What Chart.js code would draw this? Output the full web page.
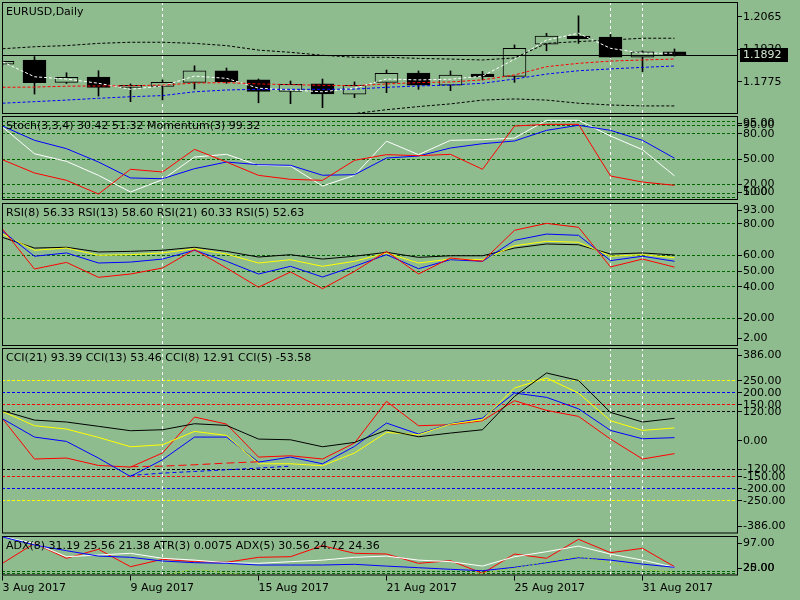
<!DOCTYPE html>
<html>
<head>
<meta charset="utf-8">
<title>EURUSD,Daily</title>
<script src="https://cdn.jsdelivr.net/npm/chart.js@4.4.1/dist/chart.umd.min.js"></script>
<style>
    html, body { margin: 0; padding: 0; width: 800px; height: 600px; overflow: hidden; background: #8FBC8F; }
    canvas { position: absolute; left: 0; }
</style>
</head>
<body>
<canvas id="pricePanel"></canvas>
<canvas id="stochPanel"></canvas>
<canvas id="rsiPanel"></canvas>
<canvas id="cciPanel"></canvas>
<canvas id="adxPanel"></canvas>
<script>
// bars (daily)
const dates = ['3 Aug', '4 Aug', '7 Aug', '8 Aug', '9 Aug', '10 Aug', '11 Aug', '14 Aug', '15 Aug', '16 Aug', '17 Aug',
    '18 Aug', '21 Aug', '22 Aug', '23 Aug', '24 Aug', '25 Aug', '28 Aug', '29 Aug', '30 Aug', '31 Aug', '1 Sep'];
const dateTickBars = [0, 4, 8, 12, 16, 20];
const separatorBars = [5, 19, 20];

// price
const open  = [1.1853, 1.1872, 1.1772, 1.1796, 1.1750, 1.1754, 1.1772, 1.1823, 1.1783, 1.1732, 1.1765, 1.1719, 1.1772, 1.1814, 1.1759, 1.1809, 1.1799, 1.1943, 1.1979, 1.1974, 1.1884, 1.1908];
const high  = [1.1867, 1.1887, 1.1815, 1.1824, 1.1765, 1.1783, 1.1846, 1.1836, 1.1787, 1.1778, 1.1787, 1.1774, 1.1827, 1.1823, 1.1823, 1.1821, 1.1939, 1.1991, 1.2069, 1.1986, 1.1913, 1.1921];
const low   = [1.1850, 1.1720, 1.1767, 1.1711, 1.1686, 1.1693, 1.1742, 1.1768, 1.1681, 1.1677, 1.1659, 1.1704, 1.1726, 1.1741, 1.1735, 1.1783, 1.1772, 1.1913, 1.1946, 1.1884, 1.1820, 1.1889];
const close = [1.1866, 1.1771, 1.1795, 1.1750, 1.1759, 1.1772, 1.1823, 1.1775, 1.1732, 1.1763, 1.1721, 1.1759, 1.1812, 1.1759, 1.1804, 1.1797, 1.1924, 1.1979, 1.1967, 1.1884, 1.1908, 1.1892];
const bandUpper = [1.1922, 1.1931, 1.1936, 1.1946, 1.1951, 1.1951, 1.1946, 1.1936, 1.1916, 1.1906, 1.1893, 1.1884, 1.1884, 1.1879, 1.1876, 1.1872, 1.1881, 1.1946, 1.1954, 1.1961, 1.1969, 1.1969];
const bandLower = [1.1613, 1.1609, 1.1604, 1.1600, 1.1600, 1.1600, 1.1604, 1.1609, 1.1618, 1.1622, 1.1626, 1.1633, 1.1650, 1.1664, 1.1676, 1.1693, 1.1698, 1.1693, 1.1679, 1.1671, 1.1667, 1.1667];
const maRed   = [1.1750, 1.1751, 1.1755, 1.1756, 1.1757, 1.1760, 1.1769, 1.1771, 1.1765, 1.1762, 1.1759, 1.1757, 1.1765, 1.1771, 1.1774, 1.1783, 1.1805, 1.1842, 1.1857, 1.1867, 1.1872, 1.1876];
const maBlue  = [1.1679, 1.1686, 1.1693, 1.1701, 1.1708, 1.1713, 1.1730, 1.1738, 1.1741, 1.1741, 1.1741, 1.1742, 1.1750, 1.1756, 1.1760, 1.1768, 1.1787, 1.1809, 1.1824, 1.1832, 1.1839, 1.1845];
const maWhite = [1.1864, 1.1797, 1.1787, 1.1768, 1.1741, 1.1756, 1.1800, 1.1790, 1.1746, 1.1738, 1.1730, 1.1746, 1.1787, 1.1783, 1.1786, 1.1800, 1.1875, 1.1961, 1.1991, 1.1924, 1.1902, 1.1902];
const lastPrice = 1.1892;
const priceTicks = [1.2065, 1.1920, 1.1775];

// Stoch(3,3,4) / Momentum(3)
const stochMain   = [88.3, 56.6, 47.6, 31.0, 11.3, 25.9, 52.7, 55.9, 42.9, 42.0, 18.4, 31.0, 71.5, 55.5, 72.5, 73.2, 75.2, 96.2, 96.2, 77.6, 61.4, 30.4];
const stochSignal = [89.4, 72.5, 62.6, 46.8, 27.9, 27.0, 38.9, 46.8, 43.6, 42.9, 31.1, 31.8, 51.5, 53.9, 63.4, 68.5, 71.7, 84.3, 90.3, 84.3, 72.5, 51.3];
const momentum    = [49.5, 33.8, 25.1, 8.9, 38.2, 35.0, 61.8, 46.8, 31.0, 26.3, 25.1, 48.8, 55.5, 54.3, 55.9, 38.2, 89.4, 91.4, 91.4, 30.2, 23.1, 19.2];
const stochLevels = [95, 90, 80, 50, 20, 10, 5];

// RSI
const rsi8  = [75.4, 59.5, 61.6, 55.2, 55.8, 57.7, 63.3, 56.3, 48.2, 53.1, 46.3, 53.1, 60.5, 51.6, 57.3, 56.3, 69.6, 73.6, 72.8, 56.7, 59.5, 56.3];
const rsi13 = [73.6, 63.3, 64.7, 60.1, 60.5, 61.6, 64.3, 60.9, 55.2, 57.3, 53.1, 56.3, 61.6, 55.2, 57.7, 57.3, 66.2, 69.0, 68.4, 59.5, 60.5, 58.6];
const rsi21 = [71.5, 64.7, 65.2, 62.2, 62.6, 63.3, 65.2, 62.6, 59.0, 60.5, 57.7, 59.5, 62.0, 58.8, 59.8, 59.8, 64.7, 67.3, 66.8, 60.9, 61.6, 60.3];
const rsi5  = [76.8, 51.4, 55.6, 46.1, 48.2, 52.0, 63.7, 52.0, 39.8, 49.5, 38.9, 49.9, 62.6, 48.2, 58.4, 56.3, 76.0, 80.4, 77.9, 52.7, 57.7, 52.6];
const rsiLevels = [80, 60, 50, 40, 20];
const rsiTicks = [93, 80, 60, 50, 40, 20, 2];

// CCI
const cci21 = [125, 86, 78, 60, 41.7, 45.8, 70.8, 63.9, 7, 4, -25, -7, 44.4, 16.7, 32, 45.8, 184.7, 282, 251, 118, 78, 93.4];
const cci13 = [122, 62.5, 48.6, 13.9, -25, -16.7, 38.9, 22, -95.8, -95.8, -104, -51, 34.7, 25, 69.4, 87.5, 219.4, 261, 198.6, 83.3, 43, 53.5];
const cci8  = [91.7, 15.3, -2.8, -72.2, -148.6, -79, 15.3, 15.3, -88.9, -68, -95.8, -23.6, 73.6, 27.8, 70.8, 94.4, 198.6, 180.6, 133, 43, 8.3, 12.9];
const cci5  = [91.7, -76, -72, -102.8, -109.7, -51, 98.6, 69.4, -68, -62.5, -76, -9.7, 163.9, 62.5, 66.7, 83.3, 166.7, 126.4, 101.4, 7, -76, -53.6];
const cciRedDash  = [null, null, null, null, -108, -105.6, -100, -93, -87.5, null, null, null, null, null, null, null, null, null, null, null, null, null];
const cciBlueDash = [null, null, null, null, -144.4, -134.7, -127.8, -120.8, -113.9, -105.6, null, null, null, null, null, null, null, null, null, null, null, null];
const cciLevels = [250, 200, 150, 120, -120, -150, -200, -250];
const cciTicks = [386, 250, 200, 150, 120, 0, -120, -150, -200, -250, -386];

// ADX / ATR
const adxRed   = [46, 96, 58.5, 81, 37.5, 56, 50, 48.5, 61, 62.5, 90, 71, 69.2, 46, 52.5, 21, 69.2, 58.5, 106, 72.5, 83.5, 37.5];
const adxWhite = [112.5, 96, 62.5, 66.7, 71, 58.5, 54, 47.5, 46, 50, 54, 61, 64, 54, 50, 39, 62.5, 75, 89, 69, 54, 36];
const adxBlue  = [112, 91.7, 77.5, 64, 61, 51.7, 47.5, 46, 41.7, 41.7, 41.7, 43.5, 39, 35, 31, 27.5, 36, 47.5, 60, 54, 44, 36];
const atr3     = [0.0069, 0.0070, 0.0070, 0.0070, 0.0071, 0.0071, 0.00794, 0.00745, 0.0071, 0.0070, 0.0069, 0.0069, 0.0069, 0.0070, 0.0070, 0.00743, 0.00803, 0.00882, 0.00942, 0.0087, 0.00791, 0.0075];
const adxLevels = [25, 20];
const adxTicks = [97, 25, 20];

const FONT = '11px "DejaVu Sans"';
const GRID_GREEN = '#006400';
const BG = '#8FBC8F';
// 32px per bar, bar 0 sits half a pixel inside the left border
const X_MIN = -0.0156;
const X_MAX = 22.953;

const points = arr => arr.map((v, i) => ({ x: i, y: v }));

const line = (arr, color, dash, extra) => Object.assign({
    type: 'line',
    data: points(arr),
    borderColor: color,
    borderWidth: 1,
    borderDash: dash || [],
    pointRadius: 0,
    tension: 0,
    order: 0
}, extra || {});

const panelPlugin = p => ({
    id: 'mtPanel',
    beforeDatasetsDraw(chart) {
        const { ctx, chartArea: a, scales: { x, y } } = chart;
        ctx.save();
        ctx.lineWidth = 1;
        (p.levels || []).forEach((lv, k) => {
            const py = Math.floor(y.getPixelForValue(lv)) + 0.5;
            ctx.strokeStyle = p.levelColors ? p.levelColors[k] : GRID_GREEN;
            ctx.setLineDash([3, 2]);
            ctx.beginPath();
            ctx.moveTo(a.left, py);
            ctx.lineTo(a.right, py);
            ctx.stroke();
        });
        // period separators
        ctx.strokeStyle = '#FFFFFF';
        ctx.setLineDash([3, 3]);
        separatorBars.forEach(b => {
            const px = Math.floor(x.getPixelForValue(b)) + 0.5;
            ctx.beginPath();
            ctx.moveTo(px, a.top);
            ctx.lineTo(px, a.bottom);
            ctx.stroke();
        });
        ctx.restore();
    },
    afterDraw(chart) {
        const { ctx, chartArea: a, scales: { x, y } } = chart;
        ctx.save();
        ctx.font = FONT;
        ctx.textBaseline = 'middle';
        ctx.textAlign = 'left';
        ctx.fillStyle = '#000';
        ctx.strokeStyle = '#000';
        ctx.lineWidth = 1;
        ctx.setLineDash([]);

        ctx.fillText(p.title, 6, a.top + 10);

        // right scale labels
        p.ticks.forEach(v => {
            let py = y.getPixelForValue(v);
            py = Math.min(Math.max(py, a.top + 7.5), a.bottom - 7.5);
            const ty = Math.floor(py) + 0.5;
            ctx.beginPath();
            ctx.moveTo(a.right, ty);
            ctx.lineTo(a.right + 5, ty);
            ctx.stroke();
            ctx.fillText(v.toFixed(p.digits), a.right + 6, py);
        });

        if (p.lastPrice !== undefined) {
            const py = y.getPixelForValue(p.lastPrice);
            const ly = Math.floor(py) + 0.5;
            ctx.beginPath();
            ctx.moveTo(a.left, ly);
            ctx.lineTo(a.right, ly);
            ctx.stroke();
            ctx.fillStyle = '#000';
            ctx.fillRect(a.right + 3, Math.round(py) - 7, 48, 14);
            ctx.fillStyle = '#D2E6D2';
            ctx.fillText(p.lastPrice.toFixed(4), a.right + 6, py);
            ctx.fillStyle = '#000';
        }

        if (p.xAxis) {
            dateTickBars.forEach(b => {
                const px = Math.floor(x.getPixelForValue(b)) + 0.5;
                ctx.beginPath();
                ctx.moveTo(px, a.bottom);
                ctx.lineTo(px, a.bottom + 5);
                ctx.stroke();
                ctx.fillText(dates[b] + ' 2017', px, a.bottom + 13);
            });
        }

        ctx.strokeRect(a.left + 0.5, a.top + 0.5, a.right - a.left, a.bottom - a.top - 1);
        ctx.restore();
    }
});

const makePanel = (id, p) => {
    const canvas = document.getElementById(id);
    const padTop = 8;
    const areaH = p.bottom - p.top;
    const h = Math.ceil(areaH + padTop + (p.xAxis ? 600 - p.bottom : 8));
    canvas.width = 800;
    canvas.height = h;
    canvas.style.top = (p.top - padTop) + 'px';

    const scales = {
        x: { type: 'linear', min: X_MIN, max: X_MAX, display: false, offset: false },
        y: { type: 'linear', min: p.min, max: p.max, display: false }
    };
    Object.assign(scales, p.extraScales || {});

    return new Chart(canvas, {
        type: 'line',
        data: { datasets: p.datasets },
        options: {
            responsive: false,
            animation: false,
            events: [],
            layout: { padding: { left: 2, right: 63, top: padTop, bottom: h - padTop - areaH } },
            scales: scales,
            plugins: { legend: { display: false }, tooltip: { enabled: false } }
        },
        plugins: [panelPlugin(p)]
    });
};

window.onload = () => {
    const bars = dates.map((d, i) => i);

    makePanel('pricePanel', {
        top: 2, bottom: 114, min: 1.16309, max: 1.21306,
        title: 'EURUSD,Daily', ticks: priceTicks, digits: 4, lastPrice: lastPrice,
        datasets: [
            {
                type: 'bar',
                data: bars.map(i => ({ x: i, y: [low[i], high[i]] })),
                backgroundColor: '#000',
                borderWidth: 0,
                barThickness: 1,
                grouped: false,
                order: 3
            },
            {
                type: 'bar',
                data: bars.map(i => ({ x: i, y: [open[i], close[i]] })),
                backgroundColor: bars.map(i => close[i] < open[i] ? '#000' : BG),
                borderColor: '#000',
                borderWidth: 1,
                borderSkipped: false,
                barThickness: 23,
                grouped: false,
                order: 2
            },
            line(bandUpper, '#000', [3, 2]),
            line(bandLower, '#000', [3, 2]),
            line(maBlue, '#0000FF', [3, 2]),
            line(maRed, '#FF0000', [3, 2]),
            line(maWhite, '#FFFFFF', [3, 2])
        ]
    });

    makePanel('stochPanel', {
        top: 116, bottom: 200, min: 1.8, max: 101.3,
        title: 'Stoch(3,3,4) 30.42 51.32 Momentum(3) 99.32', ticks: stochLevels, digits: 2,
        levels: stochLevels,
        datasets: [
            line(momentum, '#FF0000'),
            line(stochSignal, '#0000FF'),
            line(stochMain, '#FFFFFF')
        ]
    });

    makePanel('rsiPanel', {
        top: 203, bottom: 346, min: 2.44, max: 93.35,
        title: 'RSI(8) 56.33 RSI(13) 58.60 RSI(21) 60.33 RSI(5) 52.63', ticks: rsiTicks, digits: 2,
        levels: rsiLevels,
        datasets: [
            line(rsi5, '#FF0000'),
            line(rsi8, '#0000FF'),
            line(rsi13, '#FFFF00'),
            line(rsi21, '#000000')
        ]
    });

    makePanel('cciPanel', {
        top: 348, bottom: 533.5, min: -386, max: 386,
        title: 'CCI(21) 93.39 CCI(13) 53.46 CCI(8) 12.91 CCI(5) -53.58', ticks: cciTicks, digits: 2,
        levels: cciLevels,
        levelColors: ['#FFFF00', '#0000FF', '#FF0000', '#000000', '#000000', '#FF0000', '#0000FF', '#FFFF00'],
        datasets: [
            line(cciRedDash, '#FF0000', [8, 4]),
            line(cciBlueDash, '#0000FF', [4, 3]),
            line(cci21, '#000000'),
            line(cci13, '#FFFF00'),
            line(cci8, '#0000FF'),
            line(cci5, '#FF0000')
        ]
    });

    makePanel('adxPanel', {
        top: 536, bottom: 575.5, min: 15.5, max: 114.25, xAxis: true,
        title: 'ADX(8) 31.19 25.56 21.38 ATR(3) 0.0075 ADX(5) 30.56 24.72 24.36', ticks: adxTicks, digits: 2,
        levels: adxLevels,
        extraScales: { atr: { type: 'linear', min: 0.00716, max: 0.0119, display: false } },
        datasets: [
            line(atr3, '#9ACD32', [2, 2], { yAxisID: 'atr' }),
            line(adxBlue, '#0000FF'),
            line(adxWhite, '#FFFFFF'),
            line(adxRed, '#FF0000')
        ]
    });
};
</script>
</body>
</html>
